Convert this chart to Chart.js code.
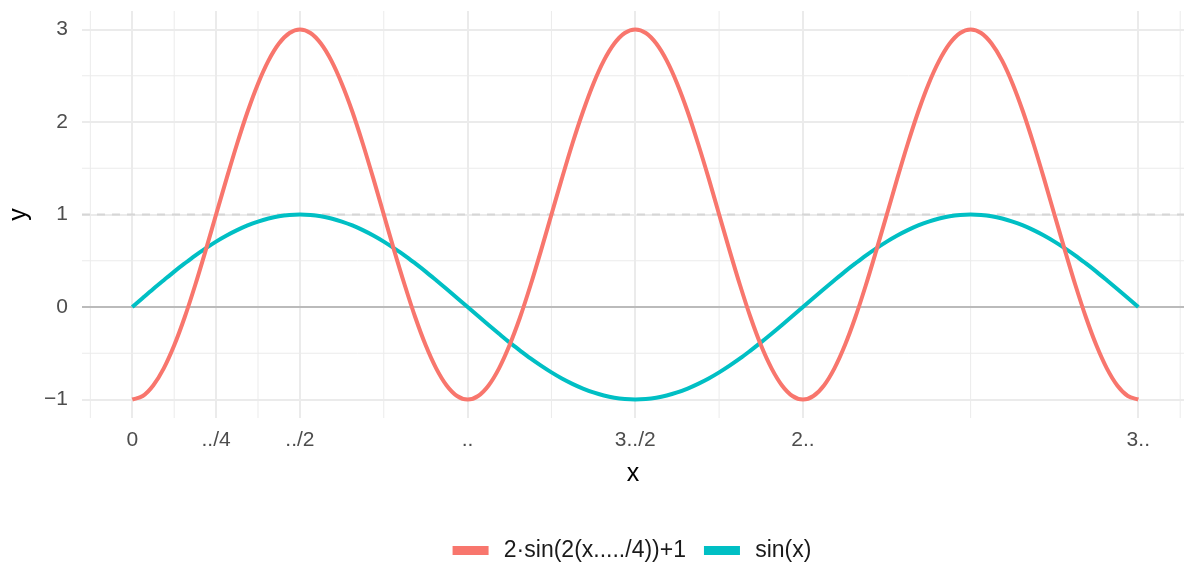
<!DOCTYPE html>
<html>
<head>
<meta charset="utf-8">
<script src="https://cdn.jsdelivr.net/npm/chart.js@4"></script>
<style>
  html, body { margin: 0; padding: 0; background: #ffffff; }
  #wrap { width: 1184px; height: 565px; }
</style>
</head>
<body>
<div id="wrap"><canvas id="chart"></canvas></div>
<script>
// x positions (0 .. 3π, steps of π/32)
const xs = [0, 0.098, 0.196, 0.295, 0.393, 0.491, 0.589, 0.687, 0.785, 0.884, 0.982, 1.080, 1.178, 1.276, 1.374, 1.473,
  1.571, 1.669, 1.767, 1.865, 1.963, 2.062, 2.160, 2.258, 2.356, 2.454, 2.553, 2.651, 2.749, 2.847, 2.945, 3.043,
  3.142, 3.240, 3.338, 3.436, 3.534, 3.633, 3.731, 3.829, 3.927, 4.025, 4.123, 4.222, 4.320, 4.418, 4.516, 4.614,
  4.712, 4.811, 4.909, 5.007, 5.105, 5.203, 5.301, 5.400, 5.498, 5.596, 5.694, 5.792, 5.890, 5.989, 6.087, 6.185,
  6.283, 6.381, 6.480, 6.578, 6.676, 6.774, 6.872, 6.970, 7.069, 7.167, 7.265, 7.363, 7.461, 7.560, 7.658, 7.756,
  7.854, 7.952, 8.050, 8.149, 8.247, 8.345, 8.443, 8.541, 8.639, 8.738, 8.836, 8.934, 9.032, 9.130, 9.228, 9.327,
  9.425];

const redVals = [-1, -0.962, -0.848, -0.663, -0.414, -0.111, 0.235, 0.610, 1, 1.390, 1.765, 2.111, 2.414, 2.663, 2.848, 2.962,
  3, 2.962, 2.848, 2.663, 2.414, 2.111, 1.765, 1.390, 1, 0.610, 0.235, -0.111, -0.414, -0.663, -0.848, -0.962,
  -1, -0.962, -0.848, -0.663, -0.414, -0.111, 0.235, 0.610, 1, 1.390, 1.765, 2.111, 2.414, 2.663, 2.848, 2.962,
  3, 2.962, 2.848, 2.663, 2.414, 2.111, 1.765, 1.390, 1, 0.610, 0.235, -0.111, -0.414, -0.663, -0.848, -0.962,
  -1, -0.962, -0.848, -0.663, -0.414, -0.111, 0.235, 0.610, 1, 1.390, 1.765, 2.111, 2.414, 2.663, 2.848, 2.962,
  3, 2.962, 2.848, 2.663, 2.414, 2.111, 1.765, 1.390, 1, 0.610, 0.235, -0.111, -0.414, -0.663, -0.848, -0.962,
  -1];

const sinVals = [0, 0.098, 0.195, 0.290, 0.383, 0.471, 0.556, 0.634, 0.707, 0.773, 0.831, 0.882, 0.924, 0.957, 0.981, 0.995,
  1, 0.995, 0.981, 0.957, 0.924, 0.882, 0.831, 0.773, 0.707, 0.634, 0.556, 0.471, 0.383, 0.290, 0.195, 0.098,
  0, -0.098, -0.195, -0.290, -0.383, -0.471, -0.556, -0.634, -0.707, -0.773, -0.831, -0.882, -0.924, -0.957, -0.981, -0.995,
  -1, -0.995, -0.981, -0.957, -0.924, -0.882, -0.831, -0.773, -0.707, -0.634, -0.556, -0.471, -0.383, -0.290, -0.195, -0.098,
  0, 0.098, 0.195, 0.290, 0.383, 0.471, 0.556, 0.634, 0.707, 0.773, 0.831, 0.882, 0.924, 0.957, 0.981, 0.995,
  1, 0.995, 0.981, 0.957, 0.924, 0.882, 0.831, 0.773, 0.707, 0.634, 0.556, 0.471, 0.383, 0.290, 0.195, 0.098,
  0];

const seriesNames = ['2·sin(2(x...../4))+1', 'sin(x)'];

const xTicks = [0, 0.7854, 1.5708, 3.1416, 4.7124, 6.2832, 9.4248];
const xTickLabels = ['0', '../4', '../2', '..', '3../2', '2..', '3..'];
const xMinor = [-0.3927, 0.3927, 1.1781, 2.3562, 3.9270, 5.4978, 7.8540, 9.8175];

const yTicks = [-1, 0, 1, 2, 3];
const yTickLabels = ['\u22121', '0', '1', '2', '3'];
const yMinor = [-0.5, 0.5, 1.5, 2.5];

const refSolid = 0;
const refDashed = 1;

const FONT = "'Liberation Sans', Arial, sans-serif";

function punts(vals) {
  return xs.map((x, i) => ({ x: x, y: vals[i] }));
}

// minor grid + reference lines, drawn under the curves
const fonsGrafic = {
  id: 'fonsGrafic',
  beforeDatasetsDraw(chart) {
    const { ctx, chartArea, scales } = chart;
    ctx.save();
    ctx.strokeStyle = '#EBEBEB';
    ctx.lineWidth = 1;
    xMinor.forEach(v => {
      let px = scales.x.getPixelForValue(v);
      if (px < chartArea.left || px > chartArea.right) return;
      ctx.beginPath();
      ctx.moveTo(px, chartArea.top);
      ctx.lineTo(px, chartArea.bottom);
      ctx.stroke();
    });
    yMinor.forEach(v => {
      let py = scales.y.getPixelForValue(v);
      ctx.beginPath();
      ctx.moveTo(chartArea.left, py);
      ctx.lineTo(chartArea.right, py);
      ctx.stroke();
    });

    let y0 = scales.y.getPixelForValue(refSolid);
    ctx.strokeStyle = '#ABABAB';
    ctx.lineWidth = 1.5;
    ctx.beginPath();
    ctx.moveTo(chartArea.left, y0);
    ctx.lineTo(chartArea.right, y0);
    ctx.stroke();

    let y1 = scales.y.getPixelForValue(refDashed);
    ctx.strokeStyle = '#D6D6D6';
    ctx.lineWidth = 2;
    ctx.setLineDash([8, 7]);
    ctx.beginPath();
    ctx.moveTo(chartArea.left, y1);
    ctx.lineTo(chartArea.right, y1);
    ctx.stroke();
    ctx.restore();
  }
};

const ctx = document.getElementById('chart');
new Chart(ctx, {
  type: 'line',
  data: {
    datasets: [{
      label: seriesNames[0],
      data: punts(redVals),
      borderColor: '#F8766D',
      backgroundColor: '#F8766D',
      borderWidth: 4
    }, {
      label: seriesNames[1],
      data: punts(sinVals),
      borderColor: '#00BFC4',
      backgroundColor: '#00BFC4',
      borderWidth: 4
    }]
  },
  options: {
    responsive: true,
    maintainAspectRatio: false,
    animation: false,
    layout: { padding: { left: 0, right: 0, top: 11, bottom: -7 } },
    elements: {
      point: { radius: 0 },
      line: { cubicInterpolationMode: 'monotone' }
    },
    plugins: {
      tooltip: { enabled: false },
      legend: {
        display: true,
        position: 'bottom',
        fullSize: false,
        labels: {
          boxWidth: 32,
          boxHeight: 5,
          padding: 20,
          color: '#1a1a1a',
          font: { family: FONT, size: 23 },
          generateLabels: (chart) => {
            let items = Chart.defaults.plugins.legend.labels.generateLabels(chart);
            items.forEach(it => { it.text = '\u2005' + it.text; });
            return items;
          }
        }
      }
    },
    scales: {
      x: {
        type: 'linear',
        min: -0.471,
        max: 9.853,
        afterBuildTicks: (s) => {
          s.ticks = xTicks.map(v => ({ value: v }));
        },
        afterFit: (s) => {
          s.height = 101;
          s.paddingLeft = 0;
          s.paddingRight = 0;
        },
        grid: {
          color: '#EBEBEB',
          lineWidth: 2,
          drawTicks: false
        },
        border: { display: false },
        ticks: {
          autoSkip: false,
          maxRotation: 0,
          padding: 10,
          color: '#4D4D4D',
          font: { family: FONT, size: 21 },
          callback: (v) => {
            let i = xTicks.indexOf(v);
            return i >= 0 ? xTickLabels[i] : '';
          }
        },
        title: {
          display: true,
          text: 'x',
          color: '#000000',
          font: { family: FONT, size: 25 },
          padding: { top: 0, bottom: 30 }
        }
      },
      y: {
        type: 'linear',
        min: -1.2,
        max: 3.2,
        afterBuildTicks: (s) => {
          s.ticks = yTicks.map(v => ({ value: v }));
        },
        afterFit: (s) => {
          s.width = 82;
          s.paddingTop = 0;
          s.paddingBottom = 0;
        },
        grid: {
          color: '#EBEBEB',
          lineWidth: 2,
          drawTicks: false
        },
        border: { display: false },
        ticks: {
          padding: 14,
          color: '#4D4D4D',
          font: { family: FONT, size: 21 },
          callback: (v) => {
            let i = yTicks.indexOf(v);
            return i >= 0 ? yTickLabels[i] : '';
          }
        },
        title: {
          display: true,
          text: 'y',
          color: '#000000',
          font: { family: FONT, size: 25 },
          padding: { top: 4, bottom: 0 }
        }
      }
    }
  },
  plugins: [fonsGrafic]
});
</script>
</body>
</html>
